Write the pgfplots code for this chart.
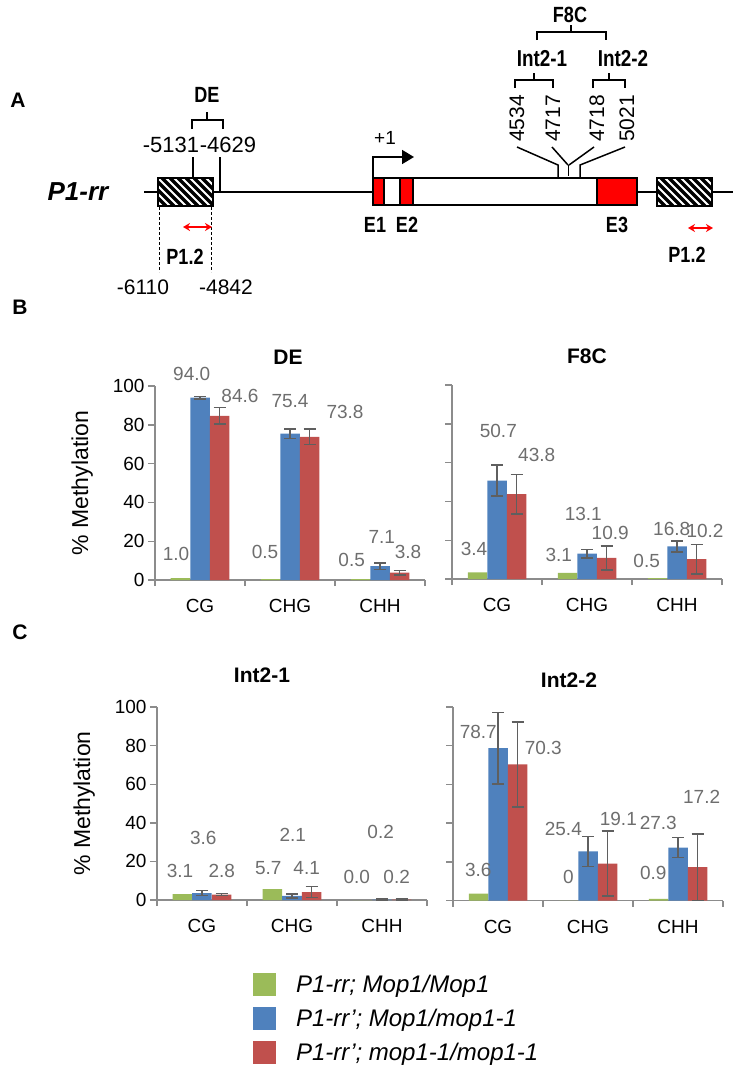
\documentclass[border=0pt]{standalone}
\usepackage{fontspec}
\setmainfont{Liberation Sans}
\newfontfamily\nb[FakeStretch=0.82]{Liberation Sans}
\usepackage{pgfplots}
\pgfplotsset{compat=1.18}
\usepackage{pgfplotstable}
\usetikzlibrary{arrows.meta}
\definecolor{cgreen}{HTML}{9BBB59}
\definecolor{cblue}{HTML}{4F81BD}
\definecolor{cred}{HTML}{C0504D}
\definecolor{axgray}{HTML}{8C8C8C}
\definecolor{lblgray}{HTML}{6E6E6E}
\definecolor{errgray}{HTML}{5F5F5F}
\definecolor{xred}{HTML}{FF0000}

% bars: x, green, blue (+err), red (+err)
\pgfplotstableread{
x g b be r re
0 1.0 94.0 0.6 84.6 4.2
1 0.5 75.4 2.4 73.8 4.0
2 0.5 7.1 1.7 3.8 1.1
}\tDE
\pgfplotstableread{
lx ly lab
-0.267 13.3 1.0
-0.092 106.2 94.0
0.444 95.0 84.6
0.722 14.7 0.5
1.000 92.4 75.4
1.611 86.4 73.8
1.685 10.4 0.5
2.019 22.1 7.1
2.311 14.7 3.8
}\lDE
\pgfplotstableread{
x g b be r re
0 3.4 50.7 8.0 43.8 10.2
1 3.1 13.1 2.2 10.9 6.2
2 0.5 16.8 2.8 10.2 7.6
}\tFC
\pgfplotstableread{
lx ly lab
-0.256 15.6 3.4
0.015 76.5 50.7
0.441 64.2 43.8
0.687 12.6 3.1
0.959 33.6 13.1
1.258 23.6 10.9
1.663 9.5 0.5
1.941 25.9 16.8
2.311 24.6 10.2
}\lFC
\pgfplotstableread{
x g b be r re
0 3.1 3.6 1.3 2.8 0.5
1 5.7 2.1 1.0 4.1 2.8
2 0.0 0.2 0.2 0.2 0.2
}\tIA
\pgfplotstableread{
lx ly lab
-0.244 15.2 3.1
0.014 32.4 3.6
0.219 15.2 2.8
0.737 16.4 5.7
1.008 34.0 2.1
1.163 16.4 4.1
1.719 12.1 0.0
1.985 35.3 0.2
2.163 12.1 0.2
}\lIA
\pgfplotstableread{
x g b be r re
0 3.6 78.7 18.5 70.3 22.0
1 0.0 25.4 7.7 19.1 16.8
2 0.9 27.3 5.2 17.2 17.2
}\tIB
\pgfplotstableread{
lx ly lab
-0.219 87.2 78.7
0.503 78.7 70.3
-0.219 15.8 3.6
0.781 12.3 0
0.726 36.8 25.4
1.337 42.0 19.1
1.726 14.0 0.9
1.781 39.9 27.3
2.263 53.6 17.2
}\lIB

\pgfplotsset{
  panel/.style={
    scale only axis, width=270pt,
    xmin=-0.5, xmax=2.5, ymin=0, ymax=100,
    axis x line*=bottom, axis y line*=left,
    axis line style={draw=axgray, line width=1.4pt},
    ytick={0,20,40,60,80,100},
    xtick={0,1,2}, xticklabels={CG,CHG,CHH},
    minor xtick={-0.5,0.5,1.5,2.5},
    tick align=outside,
    major tick length=7pt, minor tick length=6pt,
    major x tick style={draw=none},
    minor x tick style={draw=axgray, line width=1.4pt},
    y tick style={draw=axgray, line width=1.4pt},
    ticklabel style={font=\fontsize{19}{22}\selectfont},
    xticklabel style={yshift=-9pt},
    /pgf/number format/assume math mode=true,
    title style={font=\bfseries\fontsize{21}{24}\selectfont, anchor=center, at={(axis description cs:0.5,1)}},
    ylabel style={font=\fontsize{23}{26}\selectfont, at={(axis description cs:-0.27,0.5)}, anchor=center},
    clip=false,
    legend image code/.code={\path[#1] (0pt,-11.5pt) rectangle (23pt,11.5pt);},
  },
  errsty/.style={error bars/.cd, y dir=both, y explicit,
     error bar style={draw=errgray, line width=1.5pt},
     error mark options={rotate=90, draw=errgray, mark size=6pt, line width=1.5pt}},
  gbar/.style={ybar, bar width=19.5pt, bar shift=0pt, fill=cgreen, draw=none},
  bbar/.style={ybar, bar width=19.5pt, bar shift=0pt, fill=cblue, draw=none, errsty},
  rbar/.style={ybar, bar width=19.5pt, bar shift=0pt, fill=cred, draw=none, errsty},
  lbls/.style={only marks, mark=text, text mark={},
     nodes near coords, point meta=explicit symbolic,
     nodes near coords align=center,
     every node near coord/.append style={font=\fontsize{19}{22}\selectfont, text=lblgray, inner sep=0pt}},
}
% bar offset within a group (19.5pt of a 90pt category)
\def\off{0.21667}

\begin{document}
\begin{tikzpicture}
\useasboundingbox (0pt,0pt) rectangle (736pt,-1072pt);

% ---------------- Panel A (schematic) ----------------
\begin{scope}[x=1pt,y=-1pt]
\node[font=\bfseries\fontsize{21}{24}\selectfont] at (18,100) {A};
\node[font=\bfseries\fontsize{21}{24}\selectfont] at (20,307) {B};
\node[font=\bfseries\fontsize{21}{24}\selectfont] at (20,632) {C};
\node[font=\bfseries\itshape\fontsize{26}{28}\selectfont] at (78,192) {P1-rr};
% gene line
\draw[line width=1.8pt] (144,192) -- (733,192);
% hatched boxes
\foreach \bx in {158,657}{
  \fill[white] (\bx,178) rectangle (\bx+55,206);
  \begin{scope}
    \clip (\bx,178) rectangle (\bx+55,206);
    \foreach \i in {-36,-28,...,64}{
      \draw[line width=3.3pt] (\bx+\i,178) -- (\bx+\i+28,206);
    }
  \end{scope}
  \draw[line width=1.8pt] (\bx,178) rectangle (\bx+55,206);
}
% gene body
\draw[line width=1.8pt, fill=white] (373,178) rectangle (637,205);
\draw[line width=1.8pt, fill=xred] (373,178) rectangle (384,205);
\draw[line width=1.8pt, fill=xred] (400,178) rectangle (413,205);
\draw[line width=1.8pt, fill=xred] (597,178) rectangle (637,205);
% TSS arrow
\draw[line width=1.8pt, -{Triangle[length=12pt,width=14pt]}] (373,178) -- (373,157) -- (414,157);
\node[font=\fontsize{19}{22}\selectfont] at (385,138) {+1};
% exon labels
\node[font=\nb\bfseries\fontsize{22}{24}\selectfont] at (375,225) {E1};
\node[font=\nb\bfseries\fontsize{22}{24}\selectfont] at (407,225) {E2};
\node[font=\nb\bfseries\fontsize{22}{24}\selectfont] at (617,225) {E3};
% DE region
\draw[line width=1.5pt] (192,129) -- (192,120) -- (223,120) -- (223,129);
\draw[line width=1.5pt] (207,120) -- (207,112);
\node[font=\nb\bfseries\fontsize{22}{24}\selectfont] at (207,95) {DE};
\node[font=\fontsize{22}{24}\selectfont] at (171,145) {-5131};
\node[font=\fontsize{22}{24}\selectfont] at (228,145) {-4629};
\draw[line width=1.5pt] (193,157) -- (193,178);
\draw[line width=1.5pt] (220,157) -- (220,192);
% P1.2 left
\draw[line width=1pt, dash pattern=on 3pt off 2pt] (159,207) -- (159,272);
\draw[line width=1pt, dash pattern=on 3pt off 2pt] (211,207) -- (211,272);
\draw[xred, line width=2.4pt, {Stealth[length=7pt,width=8pt]}-{Stealth[length=7pt,width=8pt]}] (183,227) -- (212,227);
\node[font=\nb\bfseries\fontsize{22}{24}\selectfont] at (185,257) {P1.2};
\node[font=\fontsize{21}{24}\selectfont] at (143,287) {-6110};
\node[font=\fontsize{21}{24}\selectfont] at (226,287) {-4842};
% P1.2 right
\draw[xred, line width=2.4pt, {Stealth[length=7pt,width=8pt]}-{Stealth[length=7pt,width=8pt]}] (688,228) -- (713,228);
\node[font=\nb\bfseries\fontsize{22}{24}\selectfont] at (687,255) {P1.2};
% F8C brackets
\node[font=\nb\bfseries\fontsize{22}{24}\selectfont] at (570,15) {F8C};
\draw[line width=1.5pt] (537,40) -- (537,32) -- (606,32) -- (606,40);
\draw[line width=1.5pt] (571,32) -- (571,25);
\node[font=\nb\bfseries\fontsize{23}{24}\selectfont] at (542,59) {Int2-1};
\node[font=\nb\bfseries\fontsize{23}{24}\selectfont] at (623,59) {Int2-2};
\draw[line width=1.5pt] (515,88) -- (515,80) -- (553,80) -- (553,88);
\draw[line width=1.5pt] (534,80) -- (534,73);
\draw[line width=1.5pt] (593,88) -- (593,80) -- (625,80) -- (625,88);
\draw[line width=1.5pt] (609,80) -- (609,73);
\foreach \px/\t in {517/4534,553/4717,597/4718,627/5021}{
  \node[font=\fontsize{21}{24}\selectfont, rotate=90, anchor=west, inner sep=0pt] at (\px,142) {\t};
}
\draw[line width=1.5pt] (517,147) -- (558,165) -- (558,178);
\draw[line width=1.5pt] (552,147) -- (568,165);
\draw[line width=1.5pt] (594,147) -- (569,165);
\draw[line width=1.5pt] (568.5,165) -- (568.5,176);
\draw[line width=1.5pt] (625,147) -- (580,165) -- (580,178);
\end{scope}

% ---------------- Panel B ----------------
\begin{axis}[panel, height=194pt, at={(155pt,-580pt)}, anchor=south west,
  title={DE}, title style={yshift=23pt, xshift=-2pt},
  ylabel={\% Methylation}]
\addplot[gbar] table[x expr=\thisrow{x}-\off,y=g]{\tDE};
\addplot[bbar] table[x=x,y=b,y error=be]{\tDE};
\addplot[rbar] table[x expr=\thisrow{x}+\off,y=r,y error=re]{\tDE};
\addplot[lbls] table[x=lx,y=ly,meta=lab]{\lDE};
\end{axis}

\begin{axis}[panel, height=194pt, at={(452pt,-579pt)}, anchor=south west,
  yticklabels={}, title={F8C}, title style={yshift=23pt}]
\addplot[gbar] table[x expr=\thisrow{x}-\off,y=g]{\tFC};
\addplot[bbar] table[x=x,y=b,y error=be]{\tFC};
\addplot[rbar] table[x expr=\thisrow{x}+\off,y=r,y error=re]{\tFC};
\addplot[lbls] table[x=lx,y=ly,meta=lab]{\lFC};
\end{axis}

% ---------------- Panel C ----------------
\begin{axis}[panel, height=193pt, at={(157pt,-900pt)}, anchor=south west,
  title={Int2-1}, title style={yshift=26pt, xshift=-30pt},
  ylabel={\% Methylation},
  legend style={at={(axis description cs:0.355,-0.375)}, anchor=north west,
     draw=none, fill=none, font=\itshape\fontsize{24}{26}\selectfont,
     row sep=11pt, inner sep=0pt,
     nodes={inner sep=0pt, text depth=0pt}},
  legend cell align=left]
\addplot[gbar] table[x expr=\thisrow{x}-\off,y=g]{\tIA};
\addlegendentry{\hspace*{20pt}P1-rr; Mop1/Mop1}
\addplot[bbar] table[x=x,y=b,y error=be]{\tIA};
\addlegendentry{\hspace*{20pt}P1-rr’; Mop1/mop1-1}
\addplot[rbar] table[x expr=\thisrow{x}+\off,y=r,y error=re]{\tIA};
\addlegendentry{\hspace*{20pt}P1-rr’; mop1-1/mop1-1}
\addplot[lbls, forget plot] table[x=lx,y=ly,meta=lab]{\lIA};
\end{axis}

\begin{axis}[panel, height=193.5pt, at={(453pt,-900.5pt)}, anchor=south west,
  yticklabels={}, title={Int2-2}, title style={yshift=21pt, xshift=-19pt}]
\addplot[gbar] table[x expr=\thisrow{x}-\off,y=g]{\tIB};
\addplot[bbar] table[x=x,y=b,y error=be]{\tIB};
\addplot[rbar] table[x expr=\thisrow{x}+\off,y=r,y error=re]{\tIB};
\addplot[lbls] table[x=lx,y=ly,meta=lab]{\lIB};
\end{axis}
\end{tikzpicture}
\end{document}
